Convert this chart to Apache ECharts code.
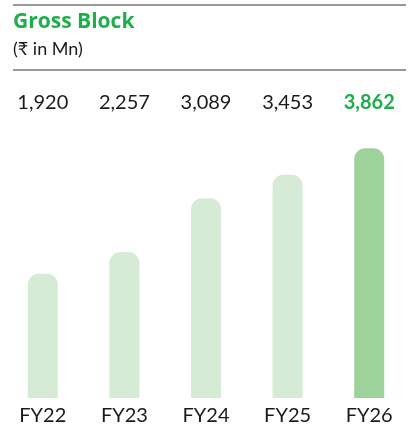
<!DOCTYPE html>
<html lang="en">
<head>
    <meta charset="UTF-8">
    <title>Gross Block</title>
    <script src="https://cdn.jsdelivr.net/npm/echarts@6/dist/echarts.min.js"></script>
</head>
<body style="margin: 0; background: #fff">
<div id="chart" style="width: 410px; height: 430px"></div>
<script>
    // data
    let years = ['FY22', 'FY23', 'FY24', 'FY25', 'FY26'];
    let grossBlock = [1920, 2257, 3089, 3453, 3862];
    let valueLabels = ['1,920', '2,257', '3,089', '3,453', '3,862'];

    let font = "Lato, 'Noto Sans', sans-serif";
    let lightGreen = '#d5ebd5';
    let darkGreen = '#9dd39b';

    let myChart = echarts.init(document.getElementById('chart'));
    let option = {
        animation: false,
        title: [{
            text: 'Gross Block',
            left: 13, top: 12, padding: 0,
            textStyle: {fontFamily: "'Open Sans', sans-serif", fontSize: 21, fontWeight: 'bold', color: '#1eaf4c'}
        }, {
            text: '(₹ in Mn)',
            left: 13, top: 40, padding: 0,
            textStyle: {fontFamily: font, fontSize: 18, fontWeight: 'normal', color: '#1a1a1a'}
        }],
        graphic: [
            {type: 'line', shape: {x1: 13, y1: 5, x2: 406, y2: 5}, style: {stroke: '#777', lineWidth: 1.5}},
            {type: 'line', shape: {x1: 13, y1: 70, x2: 406, y2: 70}, style: {stroke: '#333', lineWidth: 1}}
        ],
        grid: {left: 2, width: 420, top: 120, bottom: 32},
        xAxis: [{
            type: 'category',
            data: years,
            axisLine: {show: false},
            axisTick: {show: false},
            axisLabel: {interval: 0, margin: 8, fontFamily: font, fontSize: 20, color: '#1a1a1a'}
        }, {
            type: 'category',
            position: 'top',
            data: years,
            axisLine: {show: false},
            axisTick: {show: false},
            axisLabel: {
                interval: 0,
                margin: 7,
                formatter: function (v, i) {
                    return i === valueLabels.length - 1 ? '{hi|' + valueLabels[i] + '}' : valueLabels[i];
                },
                fontFamily: font, fontSize: 20, color: '#1a1a1a',
                rich: {hi: {fontFamily: font, fontSize: 20, fontWeight: 'bold', color: '#1eaf4c'}}
            }
        }],
        yAxis: {
            type: 'value',
            min: 0, max: 4300,
            show: false,
            splitLine: {show: false}
        },
        series: [{
            type: 'bar',
            barWidth: 30,
            data: grossBlock.map(function (v, i) {
                return {
                    value: v,
                    itemStyle: {color: i === grossBlock.length - 1 ? darkGreen : lightGreen}
                };
            }),
            itemStyle: {borderRadius: [11, 11, 0, 0]}
        }]
    };
    myChart.setOption(option, true);
</script>
</body>
</html>
